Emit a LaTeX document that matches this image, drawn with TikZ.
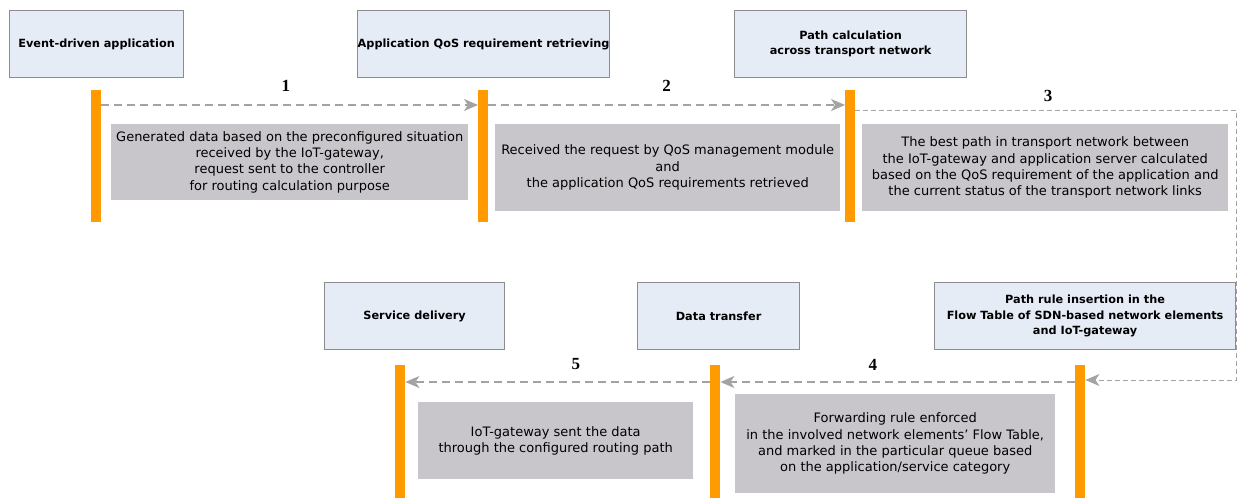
\documentclass[tikz,border=0pt]{standalone}
\usepackage{fontspec}
\setmainfont{DejaVu Sans}
\newfontfamily\numfont{Liberation Serif}
\usetikzlibrary{arrows.meta}
\definecolor{boxfill}{HTML}{E6ECF6}
\definecolor{boxline}{HTML}{8C8C8C}
\definecolor{lifeorange}{HTML}{FF9A00}
\definecolor{notefill}{HTML}{C8C6CB}
\definecolor{arrowgray}{HTML}{A3A3A3}
\tikzset{
  actor/.style={draw=boxline, line width=1.2pt, fill=boxfill, align=center, inner sep=0pt,
    font=\fontsize{11.3}{15.5}\selectfont\bfseries, anchor=north west},
  life/.style={fill=lifeorange, draw=none, minimum width=10pt, inner sep=0pt, anchor=north west},
  note/.style={fill=notefill, draw=none, align=center, inner sep=0pt,
    font=\fontsize{13}{16.3}\selectfont, anchor=north west},
  msg/.style={draw=arrowgray, line width=1.3pt, dash pattern=on 8pt off 5pt,
    -{Stealth[length=14pt,width=12pt,inset=4pt]}},
  num/.style={font=\numfont\fontsize{17}{17}\selectfont\bfseries, text=black},
}
\begin{document}
\begin{tikzpicture}[x=1pt,y=-1pt]
\useasboundingbox (0,0) rectangle (1238,498);
% actors top
\node[actor, minimum width=174pt, minimum height=67pt] (a1) at (9,10) {Event-driven application};
\node[actor, minimum width=252pt, minimum height=67pt] (a2) at (357,10) {Application QoS requirement retrieving};
\node[actor, minimum width=232pt, minimum height=67pt] (a3) at (734,10) {Path calculation\\across transport network};
% actors bottom
\node[actor, minimum width=180pt, minimum height=67pt] (a5) at (324,282) {Service delivery};
\node[actor, minimum width=162pt, minimum height=67pt] (a4) at (637,282) {Data transfer};
\node[actor, minimum width=301pt, minimum height=67pt] (a6) at (934,282) {Path rule insertion in the\\Flow Table of SDN-based network elements\\and IoT-gateway};
% lifelines
\node[life, minimum height=132pt] (l1) at (91,90) {};
\node[life, minimum height=132pt] (l2) at (478,90) {};
\node[life, minimum height=132pt] (l3) at (845,90) {};
\node[life, minimum height=133pt] (l5) at (395,365) {};
\node[life, minimum height=133pt] (l4) at (710,365) {};
\node[life, minimum height=133pt] (l6) at (1075,365) {};
% notes
\node[note, minimum width=357pt, minimum height=76pt] (n1) at (111,124)
  {Generated data based on the preconfigured situation\\received by the IoT-gateway,\\request sent to the controller\\for routing calculation purpose};
\node[note, minimum width=345pt, minimum height=87pt] (n2) at (495,124)
  {Received the request by QoS management module\\and\\the application QoS requirements retrieved};
\node[note, minimum width=366pt, minimum height=87pt] (n3) at (862,124)
  {The best path in transport network between\\the IoT-gateway and application server calculated\\based on the QoS requirement of the application and\\the current status of the transport network links};
\node[note, minimum width=320pt, minimum height=99pt] (n4) at (735,394)
  {Forwarding rule enforced\\in the involved network elements' Flow Table,\\and marked in the particular queue based\\on the application/service category};
\node[note, minimum width=275pt, minimum height=77pt] (n5) at (418,402)
  {IoT-gateway sent the data\\through the configured routing path};
% messages
\draw[msg] ([yshift=-15pt]l1.north east) -- ([yshift=-15pt]l2.north west) node[pos=0.49, above=10pt, num] (m1) {1};
\draw[msg] ([yshift=-15pt]l2.north east) -- ([yshift=-15pt]l3.north west) node[midway, above=10pt, num] (m2) {2};
\draw[msg, dash pattern=on 5pt off 3pt, line width=1pt] ([yshift=-20pt]l3.north east) -- ++(381.5,0) coordinate (c3)
  |- ([yshift=-15pt]l6.north east);
\node[num] (m3) at (1048,96) {3};
\draw[msg] ([yshift=-17pt]l6.north west) -- ([yshift=-17pt]l4.north east) node[pos=0.57, above=8pt, num] (m4) {4};
\draw[msg] ([yshift=-17pt]l4.north west) -- ([yshift=-17pt]l5.north east) node[pos=0.44, above=8pt, num] (m5) {5};
\end{tikzpicture}
\end{document}
